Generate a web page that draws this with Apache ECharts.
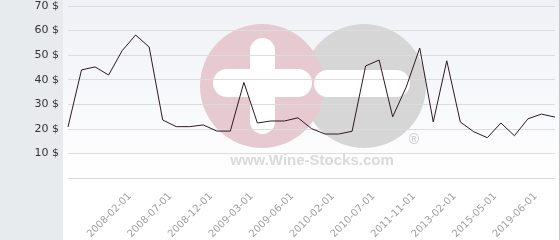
<!DOCTYPE html>
<html>
<head>
<meta charset="utf-8">
<script src="https://cdn.jsdelivr.net/npm/echarts@6/dist/echarts.min.js"></script>
<style>html,body{margin:0;padding:0;}#c{width:560px;height:240px;}</style>
</head>
<body>
<div id="c"></div>
<script>
var categories = ['2007-07-01','2007-09-01','2007-11-01','2007-12-01','2008-02-01','2008-04-01','2008-05-01','2008-07-01','2008-09-01','2008-10-01','2008-12-01','2009-01-01','2009-02-01','2009-03-01','2009-04-01','2009-05-01','2009-06-01','2009-09-01','2009-11-01','2010-02-01','2010-04-01','2010-05-01','2010-07-01','2010-11-01','2011-04-01','2011-11-01','2012-05-01','2012-09-01','2013-02-01','2013-11-01','2014-07-01','2015-05-01','2016-06-01','2017-09-01','2019-06-01','2020-09-01','2021-11-01'];
var prices = [20.8,44.0,45.2,41.9,51.8,58.2,53.3,23.6,20.9,20.9,21.6,19.1,19.1,38.9,22.4,23.2,23.2,24.5,20.1,17.9,17.9,19.0,45.6,48.0,24.9,37.0,52.9,22.8,47.7,22.8,18.8,16.4,22.4,17.2,24.1,26.0,24.8];
var yTicks = [0,10,20,30,40,50,60,70];
var shownLabels = ['2008-02-01','2008-07-01','2008-12-01','2009-03-01','2009-06-01','2010-02-01','2010-07-01','2011-11-01','2013-02-01','2015-05-01','2019-06-01'];

var chart = echarts.init(document.getElementById('c'), null, {renderer:'canvas'});
chart.setOption({
  backgroundColor: '#e8ebee',
  animation: false,
  graphic: [
    {type:'rect', z:-20, silent:true, shape:{x:63,y:0,width:496,height:240},
     style:{fill:{type:'linear',x:0,y:0,x2:0,y2:1,colorStops:[{offset:0,color:'#eff1f6'},{offset:0.75,color:'#ffffff'},{offset:1,color:'#ffffff'}]}}},
    {type:'line', z:-19, silent:true, shape:{x1:559.5,y1:0,x2:559.5,y2:240}, style:{stroke:'#c4c6c9',lineWidth:1}},
    {type:'circle', z:-18, silent:true, shape:{cx:364,cy:86,r:62}, style:{fill:'#d6d6d7'}},
    {type:'circle', z:-17, silent:true, shape:{cx:262,cy:86,r:62}, style:{fill:'#e6c9d1'}},
    {type:'rect', z:-16, silent:true, shape:{x:250,y:38,width:25,height:96,r:12.5}, style:{fill:'#ffffff'}},
    {type:'rect', z:-16, silent:true, shape:{x:213,y:69,width:99,height:28,r:14}, style:{fill:'#ffffff'}},
    {type:'rect', z:-16, silent:true, shape:{x:314,y:70,width:96,height:27,r:13.5}, style:{fill:'#ffffff'}},
    {type:'text', z:-16, silent:true, style:{x:312,y:161,text:'www.Wine-Stocks.com',fill:'#dadada',font:'bold 15px "Liberation Sans", Arial, sans-serif',textAlign:'center',textVerticalAlign:'middle'}},
    {type:'text', z:-16, silent:true, style:{x:414,y:140,text:'®',fill:'#d2d2d2',font:'bold 14px "Liberation Sans", Arial, sans-serif',textAlign:'center',textVerticalAlign:'middle'}}
  ],
  grid: {left:68, right:5, top:6, bottom:62, containLabel:false, outerBoundsMode:'none'},
  xAxis: {
    type:'category', data:categories, boundaryGap:false,
    axisLine:{show:false}, axisTick:{show:false},
    axisLabel:{
      rotate:45, margin:9, color:'#a0a0a0', fontSize:10, fontFamily:'DejaVu Sans',
      verticalAlign:'top', lineHeight:22,
      interval:function(i, v){ return shownLabels.indexOf(v) >= 0; }
    },
    splitLine:{show:false}
  },
  yAxis: {
    type:'value', min:yTicks[0], max:yTicks[yTicks.length-1], interval:10,
    axisLine:{show:false}, axisTick:{show:false},
    axisLabel:{margin:9, color:'#333333', fontSize:11, fontFamily:'DejaVu Sans',
      formatter:function(v){ return v === 0 ? '' : v + ' $'; }},
    splitLine:{show:true, lineStyle:{color:'#dcdcdc', width:1}}
  },
  series: [{
    type:'line', data:prices, showSymbol:false, symbol:'none',
    lineStyle:{color:'#2e1a22', width:1}, z:5
  }]
});
</script>
</body>
</html>
